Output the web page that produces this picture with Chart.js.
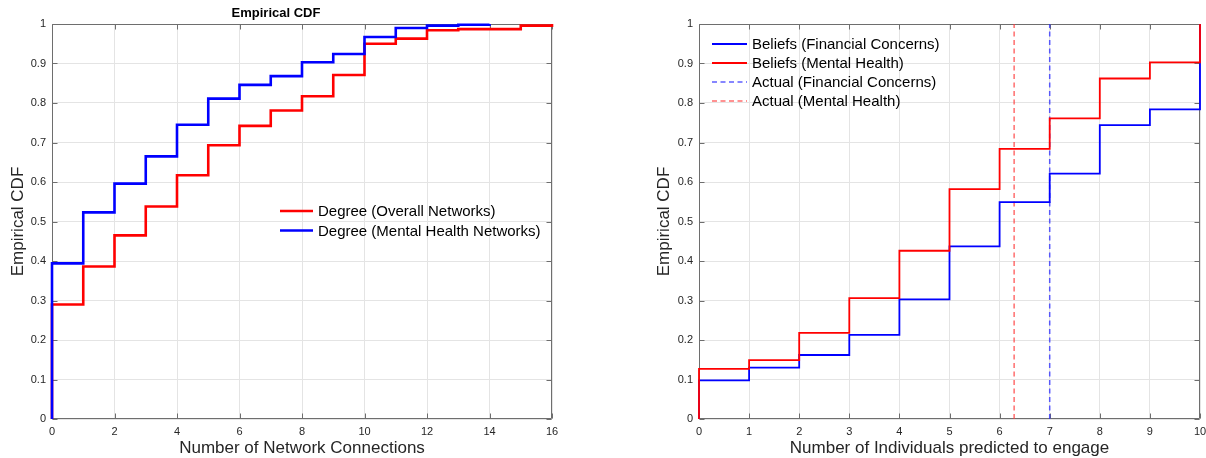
<!DOCTYPE html>
<html><head><meta charset="utf-8">
<script src="https://cdn.jsdelivr.net/npm/chart.js@4.4.1/dist/chart.umd.min.js"></script>
<style>
html,body{margin:0;padding:0;background:#fff;}
#wrap{position:relative;width:1206px;height:458px;overflow:hidden;background:#fff;}
#c1{position:absolute;left:0;top:0;}
#c2{position:absolute;left:646px;top:0;}
</style></head><body>
<div id="wrap"><canvas id="c1" width="600" height="458"></canvas><canvas id="c2" width="560" height="458"></canvas></div>
<script>
// ---------- Left chart data (degree ECDFs) ----------
const overallX = [0, 0, 1, 2, 3, 4, 5, 6, 7, 8, 9, 10, 11, 12, 13, 14, 15, 16];
const overallY = [0, 0.290, 0.386, 0.465, 0.538, 0.617, 0.693, 0.742, 0.781, 0.817, 0.871, 0.950, 0.963, 0.984, 0.987, 0.987, 0.996, 1.0];
const mentalNetX = [0, 0, 1, 2, 3, 4, 5, 6, 7, 8, 9, 10, 11, 12, 13, 14];
const mentalNetY = [0, 0.394, 0.523, 0.596, 0.665, 0.745, 0.811, 0.846, 0.868, 0.903, 0.924, 0.967, 0.990, 0.996, 0.998, 1.0];

// ---------- Right chart data (beliefs ECDFs) ----------
const beliefsX = [0, 0, 1, 2, 3, 4, 5, 6, 7, 8, 9, 10];
const beliefsFinancialY = [0, 0.098, 0.130, 0.162, 0.213, 0.303, 0.437, 0.549, 0.621, 0.744, 0.784, 1.0];
const beliefsMentalY = [0, 0.127, 0.149, 0.218, 0.306, 0.426, 0.582, 0.684, 0.761, 0.862, 0.903, 1.0];
const actualFinancial = 7;
const actualMental = 6.29;

// ---------- Labels ----------
const leftLabels = ['Degree (Overall Networks)', 'Degree (Mental Health Networks)'];
const rightLabels = ['Beliefs (Financial Concerns)', 'Beliefs (Mental Health)', 'Actual (Financial Concerns)', 'Actual (Mental Health)'];

const FONT = "'Liberation Sans', Arial, Helvetica, sans-serif";
const toPts = (xs, ys) => xs.map((x, i) => ({x: x, y: ys[i]}));
const vline = (v) => [{x: v, y: 0}, {x: v, y: 1}];
const fmtTick = (v) => String(Math.round(v * 10) / 10);

const framePlugin = {
  id: 'frame',
  beforeDatasetsDraw(chart) {
    const {ctx, chartArea: a, scales: {x, y}} = chart;
    ctx.save();
    ctx.strokeStyle = '#6e6e6e';
    ctx.lineWidth = 1;
    const L = Math.round(a.left) + 0.5, R = Math.round(a.right) - 0.5;
    const T = Math.round(a.top) + 0.5, B = Math.round(a.bottom) - 0.5;
    ctx.beginPath();
    ctx.rect(L, T, R - L, B - T);
    ctx.stroke();
    const tl = 5;
    ctx.beginPath();
    x.ticks.forEach(t => {
      const p = Math.round(x.getPixelForValue(t.value)) + 0.5;
      ctx.moveTo(p, B); ctx.lineTo(p, B - tl);
      ctx.moveTo(p, T); ctx.lineTo(p, T + tl);
    });
    y.ticks.forEach(t => {
      const p = Math.round(y.getPixelForValue(t.value)) + 0.5;
      ctx.moveTo(L, p); ctx.lineTo(L + tl, p);
      ctx.moveTo(R, p); ctx.lineTo(R - tl, p);
    });
    ctx.stroke();
    ctx.restore();
  }
};

const legendPlugin = {
  id: 'cdfLegend',
  afterDatasetsDraw(chart, args, o) {
    const ctx = chart.ctx;
    ctx.save();
    ctx.font = o.font;
    ctx.textBaseline = 'middle';
    ctx.textAlign = 'left';
    chart.data.datasets.forEach((ds, i) => {
      const yy = o.y + i * o.rowH;
      ctx.strokeStyle = ds.borderColor;
      ctx.lineWidth = ds.borderWidth;
      ctx.setLineDash(ds.borderDash || []);
      ctx.beginPath();
      ctx.moveTo(o.x, yy); ctx.lineTo(o.x + o.lineLen, yy);
      ctx.stroke();
      ctx.setLineDash([]);
      ctx.fillStyle = '#000';
      ctx.fillText(ds.label, o.x + o.lineLen + o.gap, yy + 1);
    });
    ctx.restore();
  }
};

function axes(xMax, xStep, yWidth) {
  return {
    x: {
      type: 'linear', min: 0, max: xMax,
      ticks: {stepSize: xStep, padding: 6, color: '#262626', font: {family: FONT, size: 11}, maxRotation: 0, autoSkip: false, callback: fmtTick},
      grid: {color: '#e4e4e4', drawTicks: false, lineWidth: 1},
      border: {display: false},
      title: {display: true, text: '', color: '#262626', font: {family: FONT, size: 17, lineHeight: 1.0}, padding: {top: 0, bottom: 1}},
      afterFit(s) { s.height = 39; s.paddingLeft = 0; s.paddingRight = 0; }
    },
    y: {
      type: 'linear', min: 0, max: 1,
      ticks: {stepSize: 0.1, padding: 6, color: '#262626', font: {family: FONT, size: 11}, callback: fmtTick},
      grid: {color: '#e4e4e4', drawTicks: false, lineWidth: 1},
      border: {display: false},
      title: {display: true, text: 'Empirical CDF', color: '#262626', font: {family: FONT, size: 17}, padding: {top: 8, bottom: 0}},
      afterFit(s) { s.width = yWidth; s.paddingTop = 0; s.paddingBottom = 0; }
    }
  };
}

// ---------- Left chart ----------
const leftScales = axes(16, 2, 52);
leftScales.x.title.text = 'Number of Network Connections';
new Chart(document.getElementById('c1'), {
  type: 'line',
  data: {
    datasets: [
      {label: leftLabels[0], data: toPts(overallX, overallY), borderColor: '#ff0000', borderWidth: 2.6, stepped: 'before', pointRadius: 0, fill: false, clip: 3, order: 2},
      {label: leftLabels[1], data: toPts(mentalNetX, mentalNetY), borderColor: '#0000ff', borderWidth: 2.6, stepped: 'before', pointRadius: 0, fill: false, clip: 3, order: 1}
    ]
  },
  options: {
    responsive: false, animation: false, events: [],
    layout: {padding: {left: 0, right: 48, top: 0, bottom: 0}},
    scales: leftScales,
    plugins: {
      legend: {display: false}, tooltip: {enabled: false},
      title: {display: true, text: 'Empirical CDF', color: '#000', font: {family: FONT, size: 13, weight: 'bold', lineHeight: 1.2}, padding: {top: 6, bottom: 2.4}},
      cdfLegend: {x: 280, y: 211, rowH: 19.5, lineLen: 33, gap: 5, font: '15px ' + FONT}
    }
  },
  plugins: [framePlugin, legendPlugin]
});

// ---------- Right chart ----------
const rightScales = axes(10, 1, 53);
rightScales.x.title.text = 'Number of Individuals predicted to engage';
new Chart(document.getElementById('c2'), {
  type: 'line',
  data: {
    datasets: [
      {label: rightLabels[0], data: toPts(beliefsX, beliefsFinancialY), borderColor: '#0000ff', borderWidth: 1.8, stepped: 'before', pointRadius: 0, fill: false, clip: 3, order: 2},
      {label: rightLabels[1], data: toPts(beliefsX, beliefsMentalY), borderColor: '#ff0000', borderWidth: 1.8, stepped: 'before', pointRadius: 0, fill: false, clip: 3, order: 1},
      {label: rightLabels[2], data: vline(actualFinancial), borderColor: 'rgba(40,40,255,0.75)', borderWidth: 1.5, borderDash: [5, 3.5], pointRadius: 0, fill: false, order: 3},
      {label: rightLabels[3], data: vline(actualMental), borderColor: 'rgba(255,60,60,0.75)', borderWidth: 1.5, borderDash: [5, 3.5], pointRadius: 0, fill: false, order: 4}
    ]
  },
  options: {
    responsive: false, animation: false, events: [],
    layout: {padding: {left: 0, right: 6, top: 24, bottom: 0}},
    scales: rightScales,
    plugins: {
      legend: {display: false}, tooltip: {enabled: false},
      cdfLegend: {x: 66, y: 44, rowH: 19, lineLen: 35, gap: 5, font: '15px ' + FONT}
    }
  },
  plugins: [framePlugin, legendPlugin]
});
</script>
</body></html>
